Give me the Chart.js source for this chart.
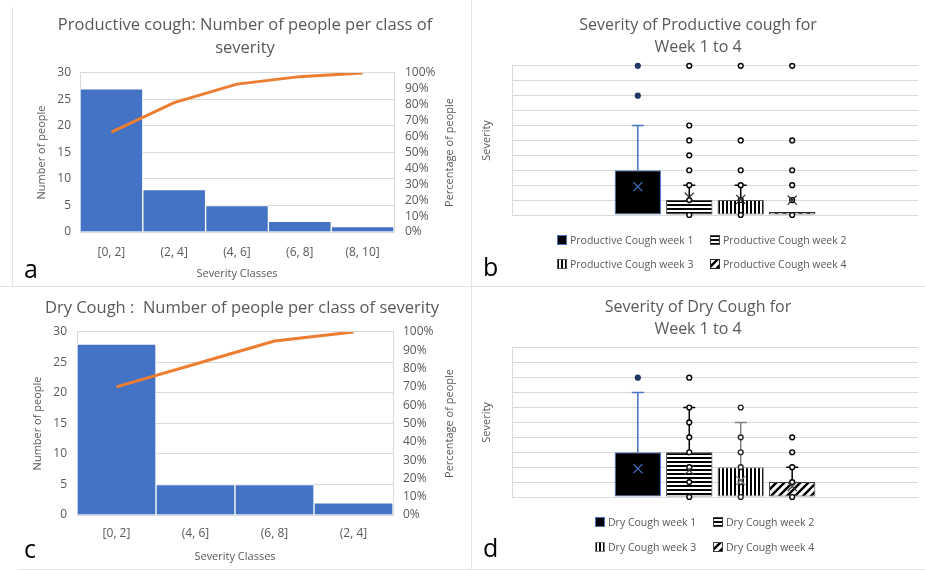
<!DOCTYPE html>
<html>
<head>
<meta charset="utf-8">
<script src="https://cdn.jsdelivr.net/npm/chart.js@4.4.1/dist/chart.umd.min.js"></script>
<style>
  html, body { margin: 0; padding: 0; background: #fff; }
  #page { position: relative; width: 925px; height: 570px; overflow: hidden; font-family: 'Open Sans', sans-serif; }
  .panel { position: absolute; }
  .tag { position: absolute; font-size: 25px; line-height: 1; color: #000; }
  .rule { position: absolute; background: #e4e4e4; }
  .legend { position: absolute; display: grid; font-size: 10.5px; color: #595959; }
  .legend .item { display: flex; align-items: center; height: 14px; white-space: nowrap; }
  .legend canvas { margin-right: 3px; }
</style>
</head>
<body>
<div id="page">
  <div class="rule" style="left:12px;top:7px;width:1px;height:279px"></div>
  <div class="rule" style="left:471px;top:0;width:1px;height:570px"></div>
  <div class="rule" style="left:0;top:286px;width:925px;height:1px"></div>
  <div class="rule" style="left:18px;top:569px;width:907px;height:1px"></div>

  <div class="panel" style="left:0;top:0"><canvas id="chartA" width="470" height="285"></canvas></div>
  <div class="panel" style="left:470px;top:0"><canvas id="chartB" width="455" height="285"></canvas></div>
  <div class="panel" style="left:0;top:285px"><canvas id="chartC" width="470" height="285"></canvas></div>
  <div class="panel" style="left:470px;top:285px"><canvas id="chartD" width="455" height="285"></canvas></div>

  <div id="legendB" class="legend" style="left:557px;top:233px;grid-template-columns:153px 153px;row-gap:10px"></div>
  <div id="legendD" class="legend" style="left:595px;top:515px;grid-template-columns:118px 118px;row-gap:11px"></div>

  <div class="tag" style="left:24px;top:256px">a</div>
  <div class="tag" style="left:483px;top:254px">b</div>
  <div class="tag" style="left:24px;top:536px">c</div>
  <div class="tag" style="left:483px;top:535px">d</div>
</div>

<script>
// ---- data ----
const prodClasses = ['[0, 2]', '(2, 4]', '(4, 6]', '(6, 8]', '(8, 10]'];
const prodCounts = [27, 8, 5, 2, 1];
const prodCumPct = [62.8, 81.4, 93.0, 97.7, 100];

const dryClasses = ['[0, 2]', '(4, 6]', '(6, 8]', '(2, 4]'];
const dryCounts = [28, 5, 5, 2];
const dryCumPct = [70, 82.5, 95, 100];

const countTicks = [0, 5, 10, 15, 20, 25, 30];
const pctTicks = [0, 10, 20, 30, 40, 50, 60, 70, 80, 90, 100];
const severityTicks = [0, 1, 2, 3, 4, 5, 6, 7, 8, 9, 10];

const prodWeeks = ['Productive Cough week 1', 'Productive Cough week 2', 'Productive Cough week 3', 'Productive Cough week 4'];
const prodBoxes = [[0, 3], [0, 1], [0, 1], [0, 0]];
const prodWhiskers = [6, 2, 2, 0];
const prodMeans = [1.9, 1.2, 1.05, 1.0];
const prodPoints = [[10, 8], [10, 6, 5, 4, 3, 2, 1, 0], [10, 5, 3, 2, 1, 0], [10, 5, 3, 2, 1, 0]];

const dryWeeks = ['Dry Cough week 1', 'Dry Cough week 2', 'Dry Cough week 3', 'Dry Cough week 4'];
const dryBoxes = [[0, 3], [0, 3], [0, 2], [0, 1]];
const dryWhiskers = [7, 6, 5, 2];
const dryMeans = [1.9, 1.8, 1.1, 0.7];
const dryPoints = [[8], [8, 6, 5, 4, 3, 2, 1, 0], [6, 4, 3, 2, 1, 0], [4, 3, 2, 1, 0]];

// ---- look ----
const FONT = "'Open Sans', sans-serif";
const GREY = '#595959';
const GRID = '#d9d9d9';
Chart.defaults.font.family = FONT;
Chart.defaults.color = GREY;

function makePattern(kind) {
  const c = document.createElement('canvas');
  const g = c.getContext('2d');
  const n = kind === 'd' ? 8 : 4;
  c.width = n; c.height = n;
  g.fillStyle = '#fff';
  g.fillRect(0, 0, n, n);
  g.fillStyle = '#000';
  g.strokeStyle = '#000';
  if (kind === 'h') g.fillRect(0, 0, n, 2);
  if (kind === 'v') g.fillRect(0, 0, 2, n);
  if (kind === 'd') {
    g.lineWidth = 2.5;
    g.beginPath();
    g.moveTo(-2, 10); g.lineTo(10, -2);
    g.moveTo(-6, 6); g.lineTo(6, -6);
    g.moveTo(2, 14); g.lineTo(14, 2);
    g.stroke();
  }
  return g.createPattern(c, 'repeat');
}

// right-hand axis title, reads bottom to top like the left one
const sideTitle = {
  id: 'sideTitle',
  afterDraw(chart, args, opts) {
    const {ctx, chartArea} = chart;
    ctx.save();
    ctx.translate(opts.x, (chartArea.top + chartArea.bottom) / 2);
    ctx.rotate(-Math.PI / 2);
    ctx.font = '11px ' + FONT;
    ctx.fillStyle = GREY;
    ctx.textAlign = 'center';
    ctx.textBaseline = 'middle';
    ctx.fillText(opts.text, 0, 0);
    ctx.restore();
  }
};

// whiskers, points and mean crosses on top of the box bars
const boxMarks = {
  id: 'boxMarks',
  afterDatasetsDraw(chart) {
    const ctx = chart.ctx;
    const y = chart.scales.y;
    chart.data.datasets.forEach((ds, i) => {
      const x = chart.getDatasetMeta(i).data[0].x;
      const boxTop = y.getPixelForValue(ds.data[0][1]);
      ctx.save();
      if (ds.whisker > ds.data[0][1]) {
        const wy = y.getPixelForValue(ds.whisker);
        ctx.strokeStyle = ds.whiskerColor;
        ctx.lineWidth = 1.5;
        ctx.beginPath();
        ctx.moveTo(x, boxTop); ctx.lineTo(x, wy);
        ctx.moveTo(x - 6, wy); ctx.lineTo(x + 6, wy);
        ctx.stroke();
      }
      ds.points.forEach(v => {
        ctx.beginPath();
        ctx.arc(x, y.getPixelForValue(v), 2.4, 0, Math.PI * 2);
        ctx.fillStyle = ds.pointFill;
        ctx.fill();
        ctx.lineWidth = 1.4;
        ctx.strokeStyle = ds.pointStroke;
        ctx.stroke();
      });
      const my = y.getPixelForValue(ds.mean);
      ctx.strokeStyle = ds.meanColor;
      ctx.lineWidth = 1.3;
      ctx.beginPath();
      ctx.moveTo(x - 4.5, my - 4.5); ctx.lineTo(x + 4.5, my + 4.5);
      ctx.moveTo(x + 4.5, my - 4.5); ctx.lineTo(x - 4.5, my + 4.5);
      ctx.stroke();
      ctx.restore();
    });
  }
};

function pareto(id, titleLines, classes, counts, cum, g) {
  return new Chart(document.getElementById(id), {
    type: 'bar',
    data: {
      labels: classes,
      datasets: [
        { type: 'line', data: cum, yAxisID: 'y1', borderColor: '#ED7D31', borderWidth: 3,
          pointRadius: 0, tension: 0, order: 0 },
        { type: 'bar', data: counts, yAxisID: 'y', backgroundColor: '#4472C4', borderColor: '#ffffff',
          borderWidth: 1, barPercentage: 1, categoryPercentage: 1, order: 1 }
      ]
    },
    options: {
      responsive: false,
      animation: false,
      layout: { padding: { left: g.padLeft, right: 0, top: 0, bottom: 0 } },
      plugins: {
        legend: { display: false },
        tooltip: { enabled: false },
        title: { display: true, text: titleLines, color: GREY,
          font: { size: 16.5, weight: 'normal', lineHeight: 1.39 },
          padding: { top: g.titleTop, bottom: g.titleBottom } },
        sideTitle: { text: 'Percentage of people', x: 450 }
      },
      scales: {
        x: {
          grid: { drawOnChartArea: false, drawTicks: false },
          border: { color: GRID },
          ticks: { font: { size: 12 }, padding: g.xPad },
          title: { display: true, text: 'Severity Classes', font: { size: 11 },
            padding: { top: 0, bottom: g.xTitleBottom } },
          afterFit: s => { s.height = g.xHeight; }
        },
        y: {
          position: 'left', min: 0, max: 30,
          afterBuildTicks: s => { s.ticks = countTicks.map(v => ({ value: v })); },
          grid: { color: GRID, drawTicks: false },
          border: { color: GRID },
          ticks: { font: { size: 12 }, padding: g.yPad, autoSkip: false },
          title: { display: true, text: 'Number of people', font: { size: 11 },
            padding: { top: g.yTitleTop, bottom: 0 } },
          afterFit: s => { s.width = g.yWidth; }
        },
        y1: {
          position: 'right', min: 0, max: 100,
          afterBuildTicks: s => { s.ticks = pctTicks.map(v => ({ value: v })); },
          grid: { drawOnChartArea: false, drawTicks: false },
          border: { color: GRID },
          ticks: { font: { size: 12 }, padding: g.y1Pad, autoSkip: false, callback: v => v + '%' },
          afterFit: s => { s.width = g.y1Width; }
        }
      }
    },
    plugins: [sideTitle]
  });
}

function boxChart(id, titleLines, weeks, boxes, whiskers, means, points, looks, g) {
  return new Chart(document.getElementById(id), {
    type: 'bar',
    data: {
      labels: [''],
      datasets: weeks.map((w, i) => ({
        label: w,
        data: [boxes[i]],
        backgroundColor: looks[i].fill,
        borderColor: looks[i].border,
        borderWidth: 1,
        borderSkipped: false,
        minBarLength: 3,
        categoryPercentage: 0.507,
        barPercentage: 0.9,
        whisker: whiskers[i],
        mean: means[i],
        points: points[i],
        whiskerColor: looks[i].whisker,
        meanColor: looks[i].mean,
        pointFill: looks[i].pointFill,
        pointStroke: looks[i].pointStroke
      }))
    },
    options: {
      responsive: false,
      animation: false,
      layout: { padding: { left: 8, right: 7, top: 0, bottom: g.bottom } },
      plugins: {
        legend: { display: false },
        tooltip: { enabled: false },
        title: { display: true, text: titleLines, color: GREY,
          font: { size: 16, weight: 'normal', lineHeight: 1.43 },
          padding: { top: g.titleTop, bottom: g.titleBottom } }
      },
      scales: {
        x: { display: false },
        y: {
          min: 0, max: 10,
          afterBuildTicks: s => { s.ticks = severityTicks.map(v => ({ value: v })); },
          grid: { color: GRID, drawTicks: false },
          border: { color: GRID },
          ticks: { display: false },
          title: { display: true, text: 'Severity', font: { size: 11 }, padding: { top: 2, bottom: 0 } },
          afterFit: s => { s.width = 34; }
        }
      }
    },
    plugins: [boxMarks]
  });
}

function htmlLegend(chart, el) {
  chart.data.datasets.forEach(ds => {
    const item = document.createElement('div');
    item.className = 'item';
    const sw = document.createElement('canvas');
    sw.width = 10; sw.height = 10;
    const g = sw.getContext('2d');
    g.fillStyle = ds.backgroundColor;
    g.fillRect(0, 0, 10, 10);
    g.strokeStyle = ds.borderColor;
    g.lineWidth = 1;
    g.strokeRect(0.5, 0.5, 9, 9);
    const t = document.createElement('span');
    t.textContent = ds.label;
    item.append(sw, t);
    el.appendChild(item);
  });
}

const hPat = makePattern('h'), vPat = makePattern('v'), dPat = makePattern('d');
const prodLooks = [
  { fill: '#000000', border: '#4472C4', whisker: '#4472C4', mean: '#4472C4', pointFill: '#1F3864', pointStroke: '#1F3864' },
  { fill: hPat, border: '#404040', whisker: '#000000', mean: '#262626', pointFill: '#ffffff', pointStroke: '#000000' },
  { fill: vPat, border: '#595959', whisker: '#000000', mean: '#262626', pointFill: '#ffffff', pointStroke: '#000000' },
  { fill: dPat, border: '#262626', whisker: '#000000', mean: '#262626', pointFill: '#ffffff', pointStroke: '#000000' }
];
const dryLooks = [
  { fill: '#000000', border: '#4472C4', whisker: '#4472C4', mean: '#4472C4', pointFill: '#1F3864', pointStroke: '#1F3864' },
  { fill: hPat, border: '#404040', whisker: '#000000', mean: '#404040', pointFill: '#ffffff', pointStroke: '#000000' },
  { fill: vPat, border: '#7f7f7f', whisker: '#7f7f7f', mean: '#7f7f7f', pointFill: '#ffffff', pointStroke: '#262626' },
  { fill: dPat, border: '#404040', whisker: '#000000', mean: '#404040', pointFill: '#ffffff', pointStroke: '#000000' }
];

pareto('chartA', ['Productive cough: Number of people per class of', 'severity'],
  prodClasses, prodCounts, prodCumPct,
  { padLeft: 20, titleTop: 13.5, titleBottom: 13.6, xPad: 13, xTitleBottom: 5, xHeight: 53,
    yPad: 9, yTitleTop: 15, yWidth: 60, y1Pad: 11, y1Width: 76 });

pareto('chartC', 'Dry Cough :  Number of people per class of severity',
  dryClasses, dryCounts, dryCumPct,
  { padLeft: 14, titleTop: 11.5, titleBottom: 12.5, xPad: 11, xTitleBottom: 7, xHeight: 55,
    yPad: 10, yTitleTop: 17, yWidth: 63, y1Pad: 10, y1Width: 77 });

const chartB = boxChart('chartB', ['Severity of Productive cough for', 'Week 1 to 4'],
  prodWeeks, prodBoxes, prodWhiskers, prodMeans, prodPoints, prodLooks,
  { titleTop: 13.5, titleBottom: 6.6, bottom: 70 });

const chartD = boxChart('chartD', ['Severity of Dry Cough for', 'Week 1 to 4'],
  dryWeeks, dryBoxes, dryWhiskers, dryMeans, dryPoints, dryLooks,
  { titleTop: 10.5, titleBottom: 6.6, bottom: 73 });

htmlLegend(chartB, document.getElementById('legendB'));
htmlLegend(chartD, document.getElementById('legendD'));
</script>
</body>
</html>
